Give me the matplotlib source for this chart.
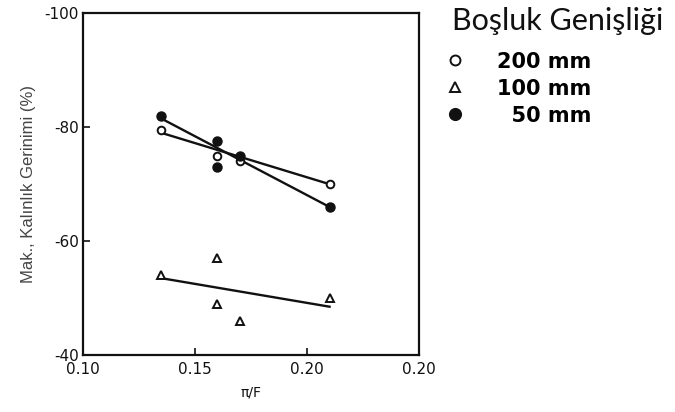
import matplotlib
matplotlib.use("Agg")
import matplotlib.pyplot as plt

plt.rcParams["axes.unicode_minus"] = False

# measured points (x = h/F, y = max thickness strain %)
x_200 = [0.135, 0.160, 0.170, 0.210]
y_200 = [-79.5, -75.0, -74.0, -70.0]
x_100 = [0.135, 0.160, 0.160, 0.170, 0.210]
y_100 = [-54.0, -57.0, -49.0, -46.0, -50.0]
x_50 = [0.135, 0.160, 0.160, 0.170, 0.210]
y_50 = [-82.0, -77.5, -73.0, -75.0, -66.0]

# fitted lines (end points)
fit_x = [0.135, 0.210]
fit_200 = [-79.0, -70.0]
fit_100 = [-53.5, -48.5]
fit_50 = [-81.5, -66.0]

x_ticks = [0.10, 0.15, 0.20, 0.25]
x_ticklabels = ["0.10", "0.15", "0.20", "0.20"]
y_ticks = [-100, -80, -60, -40]
y_ticklabels = ["-100", "-80", "-60", "-40"]

legend_labels = ["200 mm", "100 mm", "  50 mm"]

fig = plt.figure(figsize=(6.75, 4.12), dpi=100)
ax = fig.add_axes([0.123, 0.138, 0.498, 0.830])

ink = "#111111"
ax.plot(fit_x, fit_200, color=ink, linewidth=1.7, zorder=2)
ax.plot(fit_x, fit_100, color=ink, linewidth=1.7, zorder=2)
ax.plot(fit_x, fit_50, color=ink, linewidth=1.7, zorder=2)

h200, = ax.plot(x_200, y_200, linestyle="none", marker="o", markersize=5.5,
                markerfacecolor="white", markeredgecolor=ink, markeredgewidth=1.4, zorder=3)
h100, = ax.plot(x_100, y_100, linestyle="none", marker="^", markersize=5.5,
                markerfacecolor="white", markeredgecolor=ink, markeredgewidth=1.4, zorder=3)
h50, = ax.plot(x_50, y_50, linestyle="none", marker="o", markersize=6.5,
               markerfacecolor=ink, markeredgecolor=ink, zorder=3)

ax.set_xlim(0.10, 0.25)
ax.set_ylim(-40, -100)
ax.set_xticks(x_ticks)
ax.set_xticklabels(x_ticklabels)
ax.set_yticks(y_ticks)
ax.set_yticklabels(y_ticklabels)
ax.tick_params(direction="in", length=5, width=1.2, colors=ink, labelsize=11)
ax.tick_params(axis="x", pad=5)
ax.tick_params(axis="y", pad=3)
for spine in ax.spines.values():
    spine.set_linewidth(1.6)
    spine.set_color(ink)

ax.set_xlabel("π/F", fontsize=10, color=ink, labelpad=6)
ax.set_ylabel("Mak., Kalınlık Gerinimi (%)", fontsize=12, color="#444444",
              family="Liberation Sans", labelpad=6)

fig.text(452 / 675, 1 - 7 / 412, "Boşluk Genişliği", fontsize=22, family="Lato",
         ha="left", va="top", color=ink)

leg = fig.legend([h200, h100, h50], legend_labels, loc="upper left",
                 bbox_to_anchor=(428 / 675, 1 - 33 / 412), frameon=False,
                 handlelength=0.8, handletextpad=1.6, labelspacing=0.33,
                 markerscale=1.3, prop={"size": 15, "weight": "bold"})

fig.savefig("out.png", dpi=100, facecolor="white")
